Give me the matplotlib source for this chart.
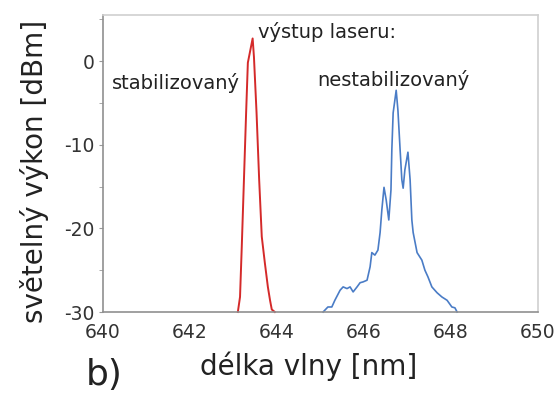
import matplotlib
matplotlib.use("Agg")
import matplotlib.pyplot as plt
from matplotlib.ticker import MultipleLocator

plt.rcParams["axes.unicode_minus"] = False

# stabilized laser spectrum (red)
stab_wl = [643.10, 643.15, 643.19, 643.24, 643.29, 643.33, 643.44, 643.47, 643.53,
           643.59, 643.65, 643.72, 643.79, 643.84, 643.88, 643.95]
stab_db = [-30.0, -28.2, -22.2, -14.2, -6.2, -0.2, 2.7, 0.5, -6.2,
           -14.2, -21.0, -24.1, -27.0, -28.6, -29.7, -30.0]

# unstabilized laser spectrum (blue)
unstab_wl = [645.06, 645.17, 645.26, 645.33, 645.45, 645.52, 645.61, 645.68, 645.75,
             645.84, 645.91, 645.98, 646.07, 646.14, 646.18, 646.25, 646.32, 646.37,
             646.41, 646.46, 646.51, 646.57, 646.62, 646.64, 646.67, 646.74, 646.78,
             646.83, 646.87, 646.90, 646.94, 647.01, 647.06, 647.10, 647.13, 647.22,
             647.33, 647.40, 647.47, 647.56, 647.68, 647.79, 647.91, 648.02, 648.09,
             648.14]
unstab_db = [-30.0, -29.4, -29.4, -28.6, -27.4, -27.0, -27.2, -27.0, -27.6,
             -27.0, -26.5, -26.4, -26.2, -24.6, -22.9, -23.2, -22.6, -20.5,
             -17.8, -15.1, -16.6, -19.0, -15.4, -10.6, -6.2, -3.5, -5.9,
             -10.6, -14.2, -15.2, -13.0, -10.9, -14.2, -19.0, -20.5, -22.9,
             -23.8, -25.0, -25.8, -27.0, -27.7, -28.2, -28.6, -29.4, -29.5,
             -30.0]

xticks = [640, 642, 644, 646, 648, 650]
yticks = [-30, -20, -10, 0]

W, H = 555, 395
fig = plt.figure(figsize=(W / 100, H / 100), dpi=100)
ax = fig.add_axes([103 / W, 1 - 312 / H, (538 - 103) / W, (312 - 15) / H])

ax.plot(stab_wl, stab_db, color="#d42a2a", lw=1.4, clip_on=False)
ax.plot(unstab_wl, unstab_db, color="#4a7cc6", lw=1.2, clip_on=False)

ax.set_xlim(640, 650)
ax.set_ylim(-30, 5.5)
ax.set_xticks(xticks)
ax.set_yticks(yticks)
ax.yaxis.set_minor_locator(MultipleLocator(5))
ax.tick_params(axis="both", which="major", labelsize=13.5, labelcolor="#333333",
               length=3, color="#999999", pad=3)
ax.tick_params(axis="y", which="minor", length=3, color="#999999")
ax.tick_params(axis="x", length=0, pad=8)

for s in ["left", "bottom"]:
    ax.spines[s].set_color("#909090")
    ax.spines[s].set_linewidth(1.2)
for s in ["top", "right"]:
    ax.spines[s].set_color("#d0d0d0")
    ax.spines[s].set_linewidth(1.2)

tc = "#222222"
fig.text(258 / W, 1 - 32 / H, "výstup laseru:", fontsize=14, color=tc, va="center", ha="left")
fig.text(112 / W, 1 - 83 / H, "stabilizovaný", fontsize=14, color=tc, va="center", ha="left")
fig.text(317 / W, 1 - 80 / H, "nestabilizovaný", fontsize=14, color=tc, va="center", ha="left")

fig.text(309 / W, 1 - 366 / H, "délka vlny [nm]", fontsize=20, color=tc, va="center", ha="center")
fig.text(35 / W, 1 - 171 / H, "světelný výkon [dBm]", fontsize=20, color=tc,
         va="center", ha="center", rotation=90)
fig.text(104 / W, 1 - 375 / H, "b)", fontsize=26, color=tc, va="center", ha="center")

fig.savefig("out.png", dpi=100)
